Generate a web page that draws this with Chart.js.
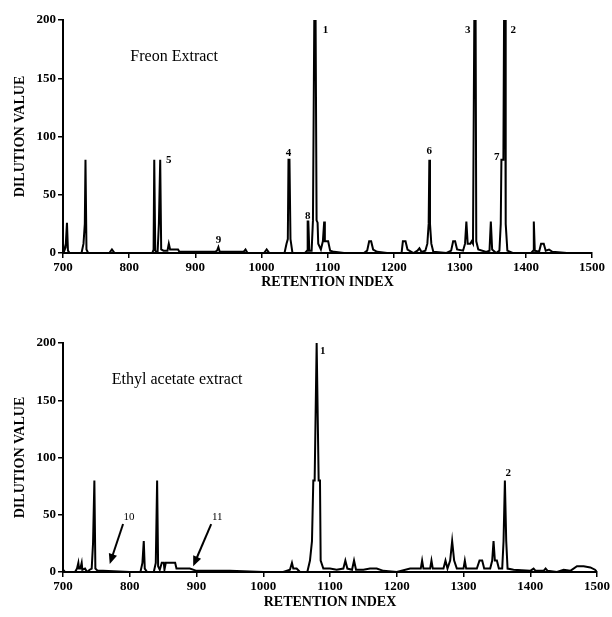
<!DOCTYPE html>
<html>
<head>
<meta charset="utf-8">
<script src="https://cdn.jsdelivr.net/npm/chart.js@4.4.0/dist/chart.umd.min.js"></script>
<style>
  html, body { margin: 0; padding: 0; background: #fff; }
  #wrap { position: relative; width: 612px; height: 617px; }
  #freonChart { position: absolute; left: 0; top: 0; }
  #ethylChart { position: absolute; left: 0; top: 300px; }
</style>
</head>
<body>
<div id="wrap">
  <canvas id="freonChart" width="612" height="300"></canvas>
  <canvas id="ethylChart" width="612" height="317"></canvas>
</div>
<script>
// 공통 축 눈금
const xTicks = [700, 800, 900, 1000, 1100, 1200, 1300, 1400, 1500]
const yTicks = [0, 50, 100, 150, 200]

// Freon 추출물 (retention index / dilution value)
const freonRI = [700, 702, 704, 706, 707.5, 710, 728, 731, 733, 734, 735.5, 738, 770, 774, 778,
  835, 837, 838, 839.5, 843, 845, 847, 848.5, 852, 858, 860, 862, 874, 876, 930, 933, 935, 937,
  973, 976, 979, 1004, 1008, 1012, 1035, 1038, 1040, 1041, 1042.5, 1044, 1047, 1066, 1069, 1070,
  1071, 1072.5, 1076, 1078, 1080, 1082, 1083.5, 1085, 1086, 1090, 1093, 1095, 1096, 1098, 1101,
  1104, 1110, 1125, 1155, 1160, 1163, 1166, 1169, 1175, 1190, 1212, 1214, 1218, 1221, 1230, 1236,
  1239, 1242, 1248, 1251, 1253, 1254, 1255, 1257, 1260, 1280, 1287, 1290, 1293, 1296, 1305, 1308,
  1310, 1312, 1316, 1318, 1320, 1322, 1324, 1325, 1328, 1340, 1345, 1347, 1349, 1355, 1360, 1362,
  1363, 1366, 1367, 1368.5, 1369.5, 1372, 1380, 1408, 1411, 1412, 1413.5, 1420, 1423, 1427, 1430,
  1435, 1440, 1462]
const freonDV = [8, 2, 5, 26, 2, 0, 0, 8, 25, 80, 3, 0, 0, 3, 0,
  0, 3, 80, 2, 0, 25, 80, 3, 2, 2, 8, 3, 3, 1, 1, 2, 5, 1,
  1, 3, 0, 0, 3, 0, 0, 8, 12, 80, 80, 12, 0, 0, 2, 27,
  27, 2, 2, 28, 200, 200, 28, 26, 8, 3, 10, 27, 10, 10, 10,
  2, 1, 0, 0, 2, 10, 10, 3, 1, 0, 0, 10, 10, 3, 0, 2,
  4, 1, 2, 8, 25, 80, 25, 8, 1, 0, 2, 10, 10, 3, 2, 8,
  27, 8, 8, 10, 8, 200, 200, 10, 3, 1, 2, 27, 3, 0, 2, 25,
  80, 80, 200, 200, 25, 2, 0, 0, 2, 27, 2, 1, 8, 8, 2,
  3, 1, 0]

// 에틸아세테이트 추출물
const ethylRI = [700, 703, 718, 721, 723, 724, 726, 728, 729, 733, 736, 740, 743, 745, 747, 748.5,
  752, 760, 800, 816, 819, 821, 822.5, 826, 836, 839, 841, 842.5, 845, 848, 851, 852, 854, 858,
  860, 862, 864, 868, 870, 890, 900, 950, 1000, 1030, 1040, 1043, 1045, 1050, 1055, 1066, 1070,
  1073, 1075, 1077, 1080, 1083, 1085, 1086, 1090, 1100, 1110, 1120, 1123, 1126, 1133, 1136, 1139,
  1150, 1160, 1170, 1180, 1200, 1220, 1236, 1238, 1240, 1250, 1252, 1254, 1270, 1273, 1276, 1280,
  1283, 1286, 1290, 1300, 1302, 1304, 1320, 1324, 1328, 1331, 1340, 1343, 1345, 1347, 1350, 1353,
  1358, 1360, 1362, 1364, 1366, 1375, 1400, 1405, 1408, 1420, 1423, 1426, 1440, 1450, 1460, 1470,
  1480, 1490, 1497, 1500]
const ethylDV = [2, 0, 0, 3, 8, 3, 3, 8, 2, 3, 0, 2, 3, 25, 80, 3,
  1, 1, 0, 0, 8, 27, 3, 0, 0, 8, 80, 5, 2, 8, 8, 2, 8, 8,
  8, 8, 8, 8, 3, 3, 1, 1, 0, 0, 2, 8, 3, 3, 0, 0, 10,
  27, 80, 80, 200, 80, 80, 10, 3, 3, 2, 3, 10, 3, 2, 10, 2,
  2, 3, 3, 1, 0, 3, 3, 10, 3, 3, 10, 3, 3, 10, 3, 10,
  27, 10, 3, 3, 10, 3, 3, 10, 10, 3, 3, 10, 27, 10, 10, 3,
  3, 27, 80, 27, 3, 2, 1, 3, 1, 1, 3, 1, 0, 2, 1, 5,
  5, 4, 2, 0]

// 피크 번호 라벨
const freonTagText = ["1", "3", "2", "7", "6", "4", "5", "8", "9"]
const freonTagRI = [1097, 1312, 1381, 1356, 1254, 1041, 860, 1070, 935]
const freonTagDV = [191, 191, 191, 82, 87, 86, 80, 32, 11]

const ethylTagText = ["1", "2"]
const ethylTagRI = [1089, 1367]
const ethylTagDV = [193, 86]

// 화살표 라벨 (10, 11)
const arrowText = ["10", "11"]
const arrowTextRI = [793, 925]
const arrowTextDV = [48, 48]
const arrowTipRI = [770, 895]
const arrowTipDV = [7, 5]

const serif = "'Liberation Serif', 'DejaVu Serif', serif"

function toPoints(xs, ys) {
  return xs.map((x, i) => ({ x: x, y: ys[i] }))
}

// 데이터 좌표에 텍스트/화살표 그리기
const annotatePlugin = {
  id: "annotate",
  afterDatasetsDraw(chart, args, opts) {
    const ctx = chart.ctx
    const xs = chart.scales.x
    const ys = chart.scales.y
    ctx.save()
    ctx.fillStyle = "#000"
    ctx.textAlign = "center"
    ctx.textBaseline = "middle"

    ctx.font = "16px " + serif
    ctx.fillText(opts.title, xs.getPixelForValue(opts.titleRI), ys.getPixelForValue(opts.titleDV))

    ctx.font = "bold 11px " + serif
    opts.tags.forEach((t, i) => {
      ctx.fillText(t, xs.getPixelForValue(opts.tagRI[i]), ys.getPixelForValue(opts.tagDV[i]))
    })

    if (opts.arrows) {
      ctx.strokeStyle = "#000"
      ctx.lineWidth = 2
      opts.arrows.forEach((t, i) => {
        const tx = xs.getPixelForValue(arrowTextRI[i])
        const ty = ys.getPixelForValue(arrowTextDV[i])
        ctx.font = "11px " + serif
        ctx.fillText(t, tx + 4, ty)
        const x0 = tx - 2
        const y0 = ty + 7
        const x1 = xs.getPixelForValue(arrowTipRI[i])
        const y1 = ys.getPixelForValue(arrowTipDV[i])
        const ang = Math.atan2(y1 - y0, x1 - x0)
        ctx.beginPath()
        ctx.moveTo(x0, y0)
        ctx.lineTo(x1 - 6 * Math.cos(ang), y1 - 6 * Math.sin(ang))
        ctx.stroke()
        ctx.beginPath()
        ctx.moveTo(x1, y1)
        ctx.lineTo(x1 - 11 * Math.cos(ang - 0.4), y1 - 11 * Math.sin(ang - 0.4))
        ctx.lineTo(x1 - 11 * Math.cos(ang + 0.4), y1 - 11 * Math.sin(ang + 0.4))
        ctx.closePath()
        ctx.fill()
      })
    }
    ctx.restore()
  },
}

function makeChart(canvasId, points, pad, xHeight, xTitlePad, annot) {
  return new Chart(document.getElementById(canvasId), {
    type: "line",
    data: {
      datasets: [
        {
          data: points,
          borderColor: "#000",
          borderWidth: 2,
          pointRadius: 0,
          tension: 0,
          fill: false,
        },
      ],
    },
    options: {
      responsive: false,
      animation: false,
      layout: { padding: pad },
      plugins: {
        legend: { display: false },
        tooltip: { enabled: false },
        annotate: annot,
      },
      scales: {
        x: {
          type: "linear",
          min: 700,
          max: 1500,
          afterBuildTicks: (axis) => {
            axis.ticks = xTicks.map((v) => ({ value: v }))
          },
          afterFit: (axis) => {
            axis.height = xHeight
          },
          grid: { drawOnChartArea: false, drawTicks: true, tickLength: 5, color: "#000", lineWidth: 1.5 },
          border: { display: true, color: "#000", width: 2 },
          ticks: {
            color: "#000",
            padding: 2,
            maxRotation: 0,
            callback: (v) => String(v),
            font: { family: serif, size: 13, weight: "bold" },
          },
          title: {
            display: true,
            text: "RETENTION INDEX",
            color: "#000",
            padding: { top: 0, bottom: xTitlePad },
            font: { family: serif, size: 14, weight: "bold" },
          },
        },
        y: {
          min: 0,
          max: 200,
          afterBuildTicks: (axis) => {
            axis.ticks = yTicks.map((v) => ({ value: v }))
          },
          afterFit: (axis) => {
            axis.width = 63 - pad.left
          },
          grid: { drawOnChartArea: false, drawTicks: true, tickLength: 5, color: "#000", lineWidth: 1.5 },
          border: { display: true, color: "#000", width: 2 },
          ticks: {
            color: "#000",
            padding: 2,
            font: { family: serif, size: 13, weight: "bold" },
          },
          title: {
            display: true,
            text: "DILUTION VALUE",
            color: "#000",
            padding: { top: 12, bottom: 0 },
            font: { family: serif, size: 14, weight: "bold" },
          },
        },
      },
    },
    plugins: [annotatePlugin],
  })
}

makeChart("freonChart", toPoints(freonRI, freonDV), { left: 0, top: 20, right: 20, bottom: 0 }, 47, 9, {
  title: "Freon Extract",
  titleRI: 868,
  titleDV: 168,
  tags: freonTagText,
  tagRI: freonTagRI,
  tagDV: freonTagDV,
})

makeChart("ethylChart", toPoints(ethylRI, ethylDV), { left: 0, top: 43, right: 15, bottom: 0 }, 45, 6, {
  title: "Ethyl acetate extract",
  titleRI: 871,
  titleDV: 168,
  tags: ethylTagText,
  tagRI: ethylTagRI,
  tagDV: ethylTagDV,
  arrows: arrowText,
})
</script>
</body>
</html>
